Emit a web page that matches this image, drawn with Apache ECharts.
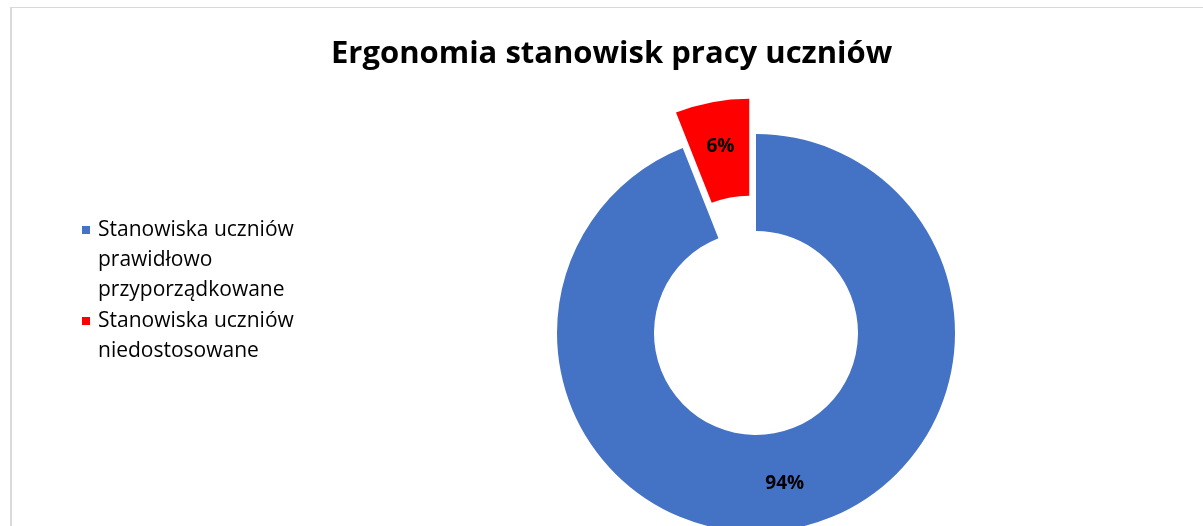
<!DOCTYPE html>
<html>
<head>
    <meta charset="utf-8">
    <title>Ergonomia stanowisk pracy uczniów</title>
    <script src="https://cdn.jsdelivr.net/npm/echarts@6/dist/echarts.min.js"></script>
	<style>
		html, body{margin: 0; padding: 0; background: #fff;}
		#frame{
			position: absolute;
			left: 10px; top: 7px;
			width: 1300px; height: 600px;
			border-left: 2px solid #d9d9d9;
			border-top: 1px solid #d9d9d9;
		}
		#chart{position: absolute; left: 0; top: 0; width: 1203px; height: 526px;}
	</style>
</head>
<body>
	<div id="frame"></div>
	<div id="chart"></div>
    <script type="text/javascript">
		// dane z wykresu
		var titleText = 'Ergonomia stanowisk pracy uczniów';
		var categories = [
			'Stanowiska uczniów prawidłowo przyporządkowane',
			'Stanowiska uczniów niedostosowane'
		];
		// nazwy w legendzie zawijane jak w oryginale
		var legendLines = [
			['Stanowiska uczniów', 'prawidłowo', 'przyporządkowane'],
			['Stanowiska uczniów', 'niedostosowane']
		];
		var values = [94, 6];
		var colors = ['#4472C4', '#FF0000'];

		// ikonka legendy: kwadrat wyrownany do pierwszej linii tekstu
		var legendIcons = [
			'path://M0,0L11,0M0,0h8v8h-8zM0,68L11,68',
			'path://M0,0L11,0M0,15h8v8h-8zM0,68L11,68'
		];

		var chart = echarts.init(document.getElementById('chart'));

		var option = {
			animation: false,
			title: {
				text: titleText,
				left: 331,
				top: 39,
				padding: 0,
				textStyle: {
					fontFamily: 'Open Sans',
					fontSize: 31,
					fontWeight: 'bold',
					color: '#000'
				}
			},
			legend: {
				orient: 'vertical',
				left: 82,
				top: 215,
				padding: 0,
				itemWidth: 11,
				itemHeight: 68,
				itemGap: -3,
				selectedMode: false,
				itemStyle: {borderWidth: 0},
				data: categories.map(function (name, i) {
					return {name: name, icon: legendIcons[i]};
				}),
				formatter: function (name) {
					return legendLines[categories.indexOf(name)].join('\n');
				},
				textStyle: {
					fontFamily: 'Open Sans',
					fontSize: 21,
					lineHeight: 30,
					color: '#000'
				}
			},
			series: [{
				type: 'pie',
				center: [756, 333],
				radius: [102, 199],
				startAngle: 90,
				clockwise: true,
				selectedMode: true,
				selectedOffset: 36,
				emphasis: {disabled: true},
				itemStyle: {borderWidth: 0},
				label: {
					position: 'inside',
					formatter: '{d}%',
					fontFamily: 'Open Sans',
					fontSize: 19,
					fontWeight: 'bold',
					color: '#000'
				},
				labelLine: {show: false},
				data: categories.map(function (name, i) {
					return {
						name: name,
						value: values[i],
						selected: i === 1,
						itemStyle: {color: colors[i]}
					};
				})
			}]
		};

		chart.setOption(option);
    </script>
</body>
</html>
